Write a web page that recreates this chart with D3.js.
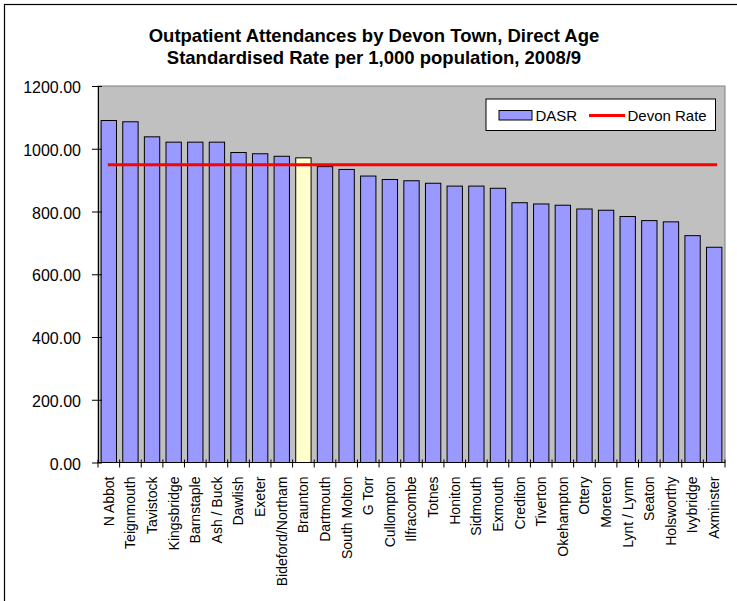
<!DOCTYPE html>
<html><head><meta charset="utf-8">
<script src="https://cdn.jsdelivr.net/npm/d3@7"></script>
<style>body{margin:0;background:#fff;}svg{display:block;font-family:Arial,"Liberation Sans",sans-serif;}</style>
</head><body>
<svg id="c" width="737" height="601"></svg>
<script>
const titleLines = ["Outpatient Attendances by Devon Town, Direct Age", "Standardised Rate per 1,000 population, 2008/9"];
const towns = ["N Abbot","Teignmouth","Tavistock","Kingsbridge","Barnstaple","Ash / Buck","Dawlish","Exeter","Bideford/Northam","Braunton","Dartmouth","South Molton","G Torr","Cullompton","Ilfracombe","Totnes","Honiton","Sidmouth","Exmouth","Crediton","Tiverton","Okehampton","Ottery","Moreton","Lynt / Lynm","Seaton","Holsworthy","Ivybridge","Axminster"];
const dasr = [1090,1086,1038,1021,1021,1021,988,984,976,971,943,934,913,902,898,890,881,881,874,828,824,820,808,804,784,771,767,723,686];
const devonRate = 949;
const highlight = "Braunton";
const yTicks = [0,200,400,600,800,1000,1200];
const seriesNames = ["DASR","Devon Rate"];

const svg = d3.select("#c");
const L = 98, R = 725, T = 86, B = 462.5;

svg.append("rect").attr("x",4.5).attr("y",4.5).attr("width",800).attr("height",700)
  .attr("fill","#fff").attr("stroke","#000").attr("stroke-width",1.2);

const x = d3.scaleBand().domain(towns).range([L,R]).padding(0);
const y = d3.scaleLinear().domain([0,1200]).range([B,T]);

svg.append("rect").attr("x",L).attr("y",T).attr("width",R-L).attr("height",B-T)
  .attr("fill","#C0C0C0").attr("stroke","#808080").attr("stroke-width",1);

const bw = x.bandwidth()*0.71, off = (x.bandwidth()-bw)/2;
svg.append("g").selectAll("rect").data(towns).join("rect")
  .attr("x",d=>x(d)+off).attr("width",bw)
  .attr("y",(d,i)=>y(dasr[i])).attr("height",(d,i)=>y(0)-y(dasr[i]))
  .attr("fill",d=>d===highlight?"#FFFFCC":"#9999FF")
  .attr("stroke","#000").attr("stroke-width",1);

svg.append("line")
  .attr("x1",x(towns[0])+x.bandwidth()/2-1).attr("x2",x(towns[towns.length-1])+x.bandwidth()/2+3)
  .attr("y1",y(devonRate)).attr("y2",y(devonRate))
  .attr("stroke","#FF0000").attr("stroke-width",3);

// y axis
const ya = svg.append("g").attr("transform",`translate(${L},0)`)
  .call(d3.axisLeft(y).tickValues(yTicks).tickFormat(d3.format(".2f")).tickSizeOuter(0).tickSizeInner(6).tickPadding(11));
ya.attr("font-size",null).attr("font-family",null);
ya.select(".domain").attr("stroke","#000");
ya.selectAll(".tick line").attr("x2",4).attr("x1",-6).attr("stroke","#000");
ya.selectAll(".tick text").style("font-size","16px").attr("fill","#000").attr("dy","0.42em");

// x axis
const xa = svg.append("g").attr("transform",`translate(0,${B})`);
xa.append("line").attr("x1",L).attr("x2",R).attr("stroke","#000");
const bounds = towns.map(t=>x(t)).concat([R]);
xa.selectAll("line.tk").data(bounds).join("line").attr("class","tk")
  .attr("x1",d=>d).attr("x2",d=>d).attr("y1",-3).attr("y2",5).attr("stroke","#000");
xa.selectAll("text").data(towns).join("text")
  .attr("transform",d=>`translate(${x(d)+x.bandwidth()/2},14) rotate(-90)`)
  .attr("dy","0.35em").attr("text-anchor","end").style("font-size","14px").attr("fill","#000")
  .text(d=>d);

// title
svg.append("g").selectAll("text").data(titleLines).join("text")
  .attr("x",374).attr("y",(d,i)=>42+i*22).attr("text-anchor","middle")
  .style("font-size","18.5px").attr("font-weight","bold").attr("fill","#000").text(d=>d);

// legend
const lg = svg.append("g");
lg.append("rect").attr("x",486).attr("y",99).attr("width",229.5).attr("height",31.5)
  .attr("fill","#fff").attr("stroke","#000").attr("stroke-width",1);
lg.append("rect").attr("x",499).attr("y",110.5).attr("width",33).attr("height",9.5)
  .attr("fill","#9999FF").attr("stroke","#000").attr("stroke-width",1);
lg.append("text").attr("x",535.5).attr("y",121).style("font-size","15px").text(seriesNames[0]);
lg.append("line").attr("x1",589).attr("x2",625).attr("y1",115.5).attr("y2",115.5)
  .attr("stroke","#FF0000").attr("stroke-width",3);
lg.append("text").attr("x",627.5).attr("y",121).style("font-size","15px").text(seriesNames[1]);
</script>
</body></html>
